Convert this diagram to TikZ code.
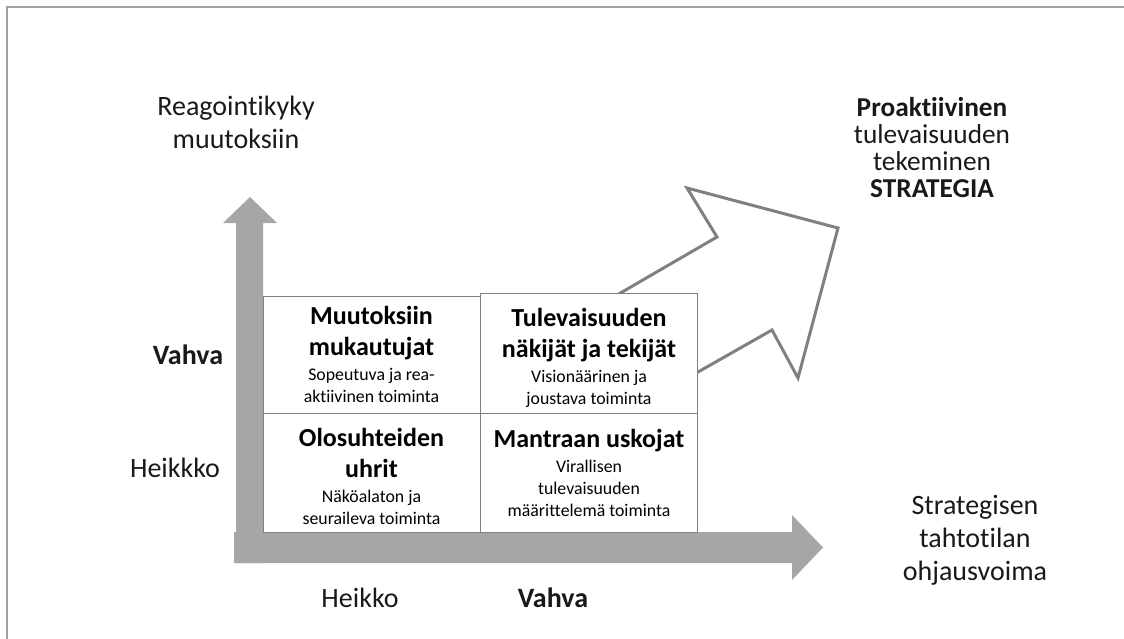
\documentclass[tikz,border=0pt]{standalone}
\usepackage{fontspec}
\setmainfont{Carlito}[Ligatures=NoCommon]
\definecolor{arrowgray}{HTML}{A6A6A6}
\definecolor{linegray}{HTML}{808080}
\definecolor{framegray}{HTML}{A0A0A0}
\newcommand{\ttlfont}{\fontsize{26}{31}\selectfont\bfseries}
\newcommand{\subfont}{\fontsize{17.8}{22}\selectfont\mdseries}
\newcommand{\quadtext}[3][0pt]{\parbox{214pt}{\centering\vspace*{#1}\ttlfont #2\par\vspace{3pt}\subfont #3\par}}
\begin{document}
\begin{tikzpicture}[x=1pt, y=-1pt,
  axisarrow/.style={fill=arrowgray, draw=none},
  quadbox/.style={draw=linegray, fill=white, line width=0.8pt, inner sep=0pt, minimum width=217pt},
  axislabel/.style={font=\fontsize{28}{33}\selectfont, align=center, text=black!90}]
\useasboundingbox (0,0) rectangle (1124,639);
\draw[framegray, line width=1.5pt] (7,639) -- (7,7) -- (1124,7);
% axes
\fill[axisarrow] (236,563) -- (236,223) -- (223,223) -- (250,197) -- (277,223) -- (263,223) -- (263,563) -- cycle;
\fill[axisarrow] (234,532) -- (792,532) -- (792,515) -- (823,547.5) -- (792,580) -- (792,563) -- (234,563) -- cycle;
% big arrow
\draw[linegray, line width=3pt, line join=miter] (580,316) -- (617,295) -- (717,237) -- (687,188) -- (838,228) -- (798,378) -- (772,330) -- (698,372) -- (650,399) -- cycle;
% quadrants
\node[quadbox, minimum height=117pt] (weakstrong) at (371.5,354.5) {\quadtext{Muutoksiin\\mukautujat}{Sopeutuva ja rea-\\aktiivinen toiminta}};
\node[quadbox, minimum height=120pt] (strongstrong) at (589,353) {\quadtext[9pt]{Tulevaisuuden\\näkijät ja tekijät}{Visionäärinen ja\\joustava toiminta}};
\node[quadbox, minimum height=119pt] (weakweak) at (371.5,472.5) {\quadtext[7pt]{Olosuhteiden\\uhrit}{Näköalaton ja\\seuraileva toiminta}};
\node[quadbox, minimum height=119pt] (strongweak) at (589,472.5) {\quadtext{Mantraan uskojat}{Virallisen\\tulevaisuuden\\määrittelemä toiminta}};
% labels
\node[axislabel] (ylabel) at (236,122) {Reagointikyky\\muutoksiin};
\node[axislabel, font=\fontsize{27.3}{27}\selectfont] (goal) at (932,148) {\textbf{Proaktiivinen}\\tulevaisuuden\\tekeminen\\\textbf{STRATEGIA}};
\node[axislabel] (xlabel) at (975,540) {Strategisen\\tahtotilan\\ohjausvoima};
\node[axislabel, font=\fontsize{28}{33}\selectfont\bfseries] (ystrong) at (188,355) {Vahva};
\node[axislabel] (yweak) at (175,468) {Heikkko};
\node[axislabel] (xweak) at (360,598) {Heikko};
\node[axislabel, font=\fontsize{28}{33}\selectfont\bfseries] (xstrong) at (553,598) {Vahva};
\end{tikzpicture}
\end{document}
